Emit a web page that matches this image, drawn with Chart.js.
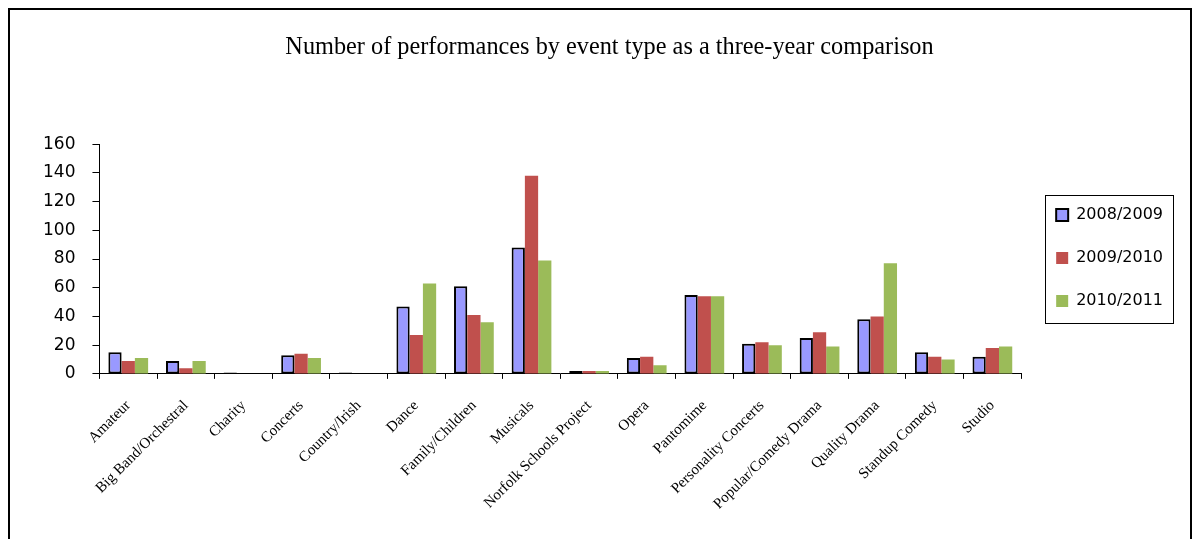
<!DOCTYPE html>
<html>
<head>
<meta charset="utf-8">
<script src="https://cdn.jsdelivr.net/npm/chart.js@4/dist/chart.umd.min.js"></script>
<style>
  html, body { margin: 0; padding: 0; background: #fff; }
  #frame { position: absolute; left: 8px; top: 8px; width: 1180px; height: 700px; border: 2px solid #000; }
  #wrap { position: absolute; left: 0; top: 0; width: 1198px; height: 539px; }
</style>
</head>
<body>
<div id="frame"></div>
<div id="wrap"><canvas id="chart"></canvas></div>
<script>
const CATEGORIE = ['Amateur', 'Big Band/Orchestral', 'Charity', 'Concerts', 'Country/Irish', 'Dance',
  'Family/Children', 'Musicals', 'Norfolk Schools Project', 'Opera', 'Pantomime', 'Personality Concerts',
  'Popular/Comedy Drama', 'Quality Drama', 'Standup Comedy', 'Studio'];
const ANNI = ['2008/2009', '2009/2010', '2010/2011'];
const VALORI_0809 = [15, 9, 1, 13, 1, 47, 61, 88, 2, 11, 55, 21, 25, 38, 15, 12];
const VALORI_0910 = [9, 4, 0, 14, 0, 27, 41, 138, 2, 12, 54, 22, 29, 40, 12, 18];
const VALORI_1011 = [11, 9, 0, 11, 0, 63, 36, 79, 2, 6, 54, 20, 19, 77, 10, 19];
const TICK_Y = [0, 20, 40, 60, 80, 100, 120, 140, 160];

// riquadro attorno alla legenda, come nel grafico originale
const bordoLegenda = {
  id: 'bordoLegenda',
  afterLayout(chart) {
    // nell'originale il titolo è centrato un po' più a destra del canvas
    const t = chart.titleBlock;
    if (t) { t.left += 10; t.right += 10; }
  },
  afterDraw(chart) {
    const boxes = chart.legend && chart.legend.legendHitBoxes;
    if (!boxes || !boxes.length) return;
    const left = Math.min(...boxes.map((b) => b.left)) - 11;
    const right = Math.max(...boxes.map((b) => b.left + b.width)) + 10;
    const top = boxes[0].top - 12;
    const bottom = boxes[boxes.length - 1].top + boxes[boxes.length - 1].height + 14;
    const ctx = chart.ctx;
    ctx.save();
    ctx.strokeStyle = '#000';
    ctx.lineWidth = 1;
    ctx.strokeRect(Math.round(left) + 0.5, Math.round(top) + 0.5, Math.round(right - left), Math.round(bottom - top));
    ctx.restore();
  },
};

new Chart(document.getElementById('chart'), {
  type: 'bar',
  data: {
    labels: CATEGORIE,
    datasets: [
      { label: ANNI[0], data: VALORI_0809, backgroundColor: '#9999FF', borderColor: '#000', borderWidth: 2, borderSkipped: false },
      { label: ANNI[1], data: VALORI_0910, backgroundColor: '#C0504D', borderWidth: 0 },
      { label: ANNI[2], data: VALORI_1011, backgroundColor: '#9BBB59', borderWidth: 0 },
    ],
  },
  options: {
    responsive: true,
    maintainAspectRatio: false,
    animation: false,
    layout: { padding: { left: 26, right: 25, top: 1, bottom: 24 } },
    datasets: { bar: { categoryPercentage: 0.69, barPercentage: 1 } },
    scales: {
      x: {
        grid: { display: true, drawOnChartArea: false, drawTicks: true, tickLength: 5, color: '#000', offset: true },
        border: { color: '#000', width: 1 },
        ticks: {
          color: '#000', maxRotation: 45, minRotation: 45, autoSkip: false, padding: 18,
          font: { family: 'Liberation Serif', size: 15 },
        },
        // le etichette partono più in basso, ma l'asse non deve rubare altezza al grafico
        afterFit: (scale) => { scale.height -= 16; },
      },
      y: {
        min: 0, max: 160,
        afterBuildTicks: (scale) => { scale.ticks = TICK_Y.map((v) => ({ value: v })); },
        grid: { display: true, drawOnChartArea: false, drawTicks: true, tickLength: 7, color: '#000' },
        border: { color: '#000', width: 1 },
        ticks: { color: '#000', padding: 17, font: { family: 'DejaVu Sans', size: 17 } },
      },
      // asse vuoto a destra: solo per lasciare spazio tra area del grafico e legenda
      spazio: {
        position: 'right',
        grid: { display: false },
        border: { display: false },
        ticks: { display: false },
        afterFit: (scale) => { scale.width = 8; },
      },
    },
    plugins: {
      title: {
        display: true,
        text: 'Number of performances by event type as a three-year comparison',
        color: '#000',
        font: { family: 'Liberation Serif', size: 24.3, weight: 'normal' },
        padding: { top: 32, bottom: 82 },
      },
      legend: {
        position: 'right',
        labels: {
          color: '#000', boxWidth: 12, boxHeight: 12, padding: 27,
          font: { family: 'DejaVu Sans', size: 16, lineHeight: 1 },
        },
      },
      tooltip: { enabled: false },
    },
  },
  plugins: [bordoLegenda],
});
</script>
</body>
</html>
